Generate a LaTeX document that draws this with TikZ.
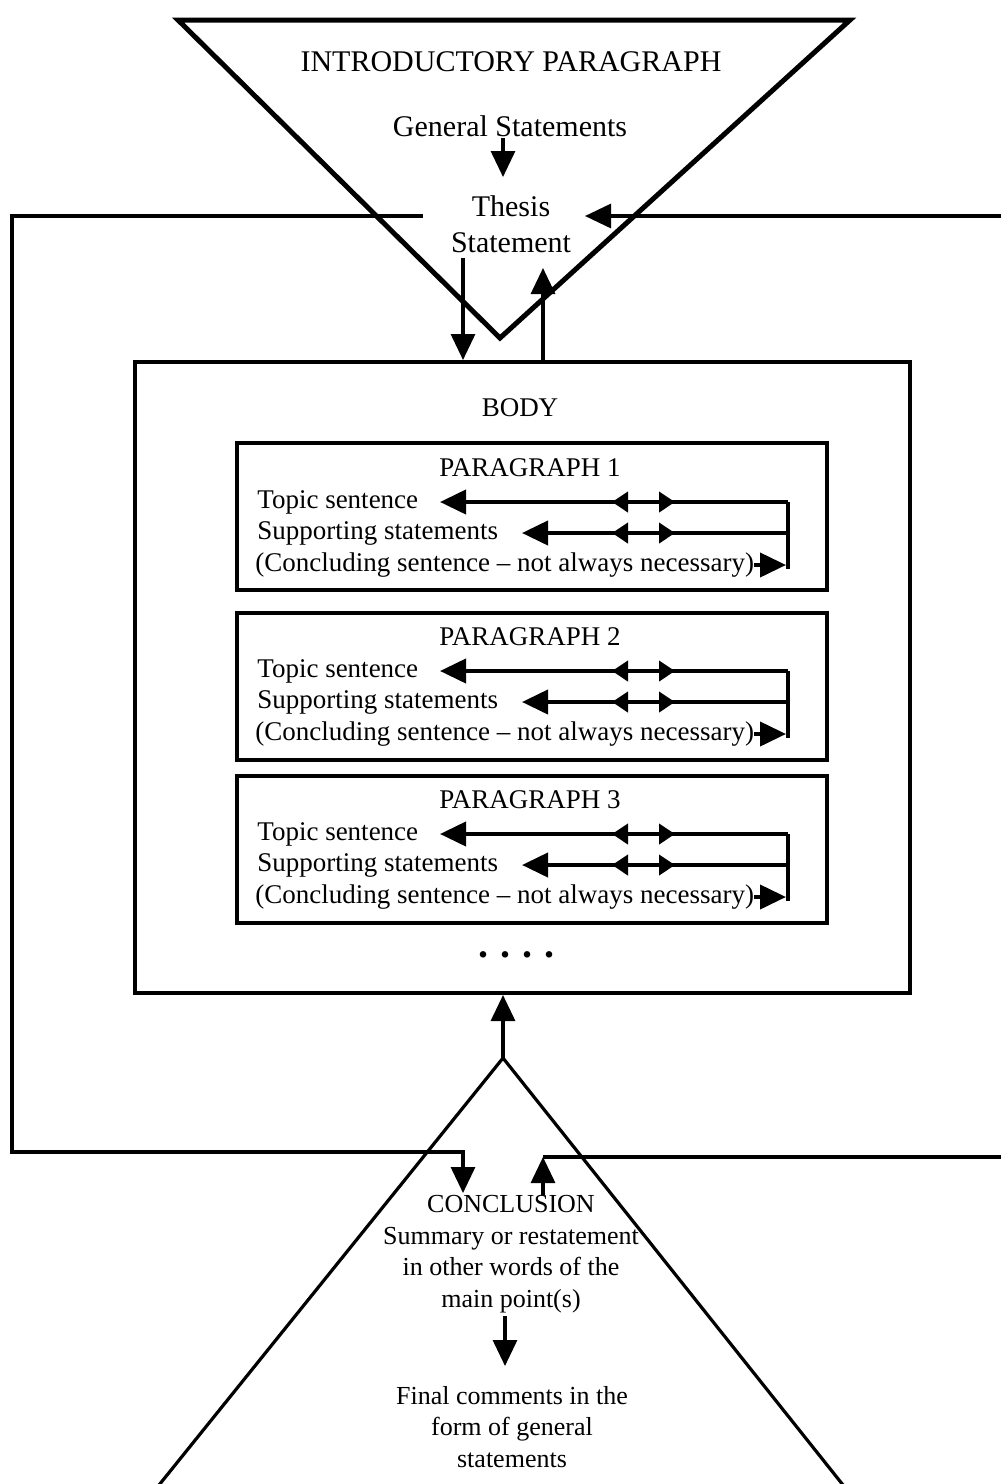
\documentclass[tikz,border=0pt]{standalone}
\usepackage{fontspec}
\setmainfont{Liberation Serif}
\usetikzlibrary{arrows.meta,decorations.markings}

\tikzset{
  big/.style={inner sep=0pt, font=\fontsize{15}{18}\selectfont},
  small/.style={inner sep=0pt, font=\fontsize{13.5}{16}\selectfont},
  concl/.style={inner sep=0pt, align=center, font=\fontsize{13}{15.75}\selectfont},
  link/.style={line width=1.6pt, line join=miter},
  parlink/.style={line width=2pt, line join=miter},
  arrowed/.style={-{Triangle[length=13pt,width=12pt]}},
  midtips/.style={postaction={decorate}, decoration={markings,
      mark=at position 56.5pt with {\arrowreversed{Triangle[length=8pt,width=10pt]}},
      mark=at position 88pt with {\arrow{Triangle[length=8pt,width=10pt]}}}},
  parbox/.style={draw, line width=2pt, minimum width=295pt, minimum height=73.5pt},
}

\begin{document}
\begin{tikzpicture}[x=0.5pt, y=-0.5pt]
    \useasboundingbox (0,0) rectangle (1001,1484);
    % Triangles
    \coordinate (introL) at (178,20);
    \coordinate (introR) at (850,20);
    \coordinate (introB) at (500,338);
    \coordinate (concL) at (155,1490);
    \coordinate (concA) at (503,1058);
    \coordinate (concR) at (847,1490);
    \draw[line width=2.5pt, line join=miter] (introL) -- (introR) -- (introB) -- cycle;
    \draw[line width=1.6pt, line join=miter] (concL) -- (concA) -- (concR);
    % Nodes
    \node[big] (intro) at (511,62) {INTRODUCTORY PARAGRAPH};
    \node[big] (general) at (510,126) {General Statements};
    \node[big, align=center] (thesis) at (511,224) {Thesis\\Statement};
    \node[draw, line width=2pt, minimum width=387.5pt, minimum height=315.5pt] (body) at (522.5,677.5) {};
    \node[small] (bodylabel) at (520,408) {BODY};
    % Paragraph 1
    \node[parbox] (p1) at (532,516.5) {};
    \node[small] (h1) at (530,468) {PARAGRAPH 1};
    \node[small, anchor=west] (ts1) at (257,502) {Topic sentence};
    \node[small, anchor=west] (ss1) at (257,533) {Supporting statements};
    \node[small, anchor=west] (cs1) at (255,565) {(Concluding sentence – not always necessary)};
    % Paragraph 2
    \node[parbox] (p2) at (532,686) {};
    \node[small] (h2) at (530,637) {PARAGRAPH 2};
    \node[small, anchor=west] (ts2) at (257,671) {Topic sentence};
    \node[small, anchor=west] (ss2) at (257,702) {Supporting statements};
    \node[small, anchor=west] (cs2) at (255,734) {(Concluding sentence – not always necessary)};
    % Paragraph 3
    \node[parbox] (p3) at (532,849) {};
    \node[small] (h3) at (530,800) {PARAGRAPH 3};
    \node[small, anchor=west] (ts3) at (257,834) {Topic sentence};
    \node[small, anchor=west] (ss3) at (257,865) {Supporting statements};
    \node[small, anchor=west] (cs3) at (255,897) {(Concluding sentence – not always necessary)};
    \node[inner sep=0pt, font=\fontsize{20}{20}\selectfont\bfseries] (dots) at (516,955) {.\hspace{6pt}.\hspace{6pt}.\hspace{6pt}.};
    \node[concl] (conclusion) at (511,1254) {CONCLUSION\\Summary or restatement\\in other words of the\\main point(s)};
    \node[concl] (final) at (512,1427) {Final comments in the\\form of general\\statements};
    % Coordinates
    \coordinate (g1) at (503,138);
    \coordinate (g2) at (503,177);
    \coordinate (downA) at (463,258);
    \coordinate (upA) at (543,268);
    \coordinate (loopA) at (423,216);
    \coordinate (loopB) at (12,216);
    \coordinate (loopC) at (12,1152);
    \coordinate (loopD) at (463,1152);
    \coordinate (loopE) at (463,1193);
    \coordinate (backA) at (1001,216);
    \coordinate (backB) at (585,216);
    \coordinate (retA) at (543,1195);
    \coordinate (retB) at (543,1157);
    \coordinate (retC) at (1001,1157);
    \coordinate (sumA) at (505,1316);
    \coordinate (sumB) at (505,1366);
    \coordinate (r1t) at (788,502);
    \coordinate (r1s) at (788,533);
    \coordinate (r1c) at (786,565);
    \coordinate (r1b) at (788,569);
    \coordinate (a1t) at (440,502);
    \coordinate (a1s) at (522,533);
    \coordinate (r2t) at (788,671);
    \coordinate (r2s) at (788,702);
    \coordinate (r2c) at (786,734);
    \coordinate (r2b) at (788,738);
    \coordinate (a2t) at (440,671);
    \coordinate (a2s) at (522,702);
    \coordinate (r3t) at (788,834);
    \coordinate (r3s) at (788,865);
    \coordinate (r3c) at (786,897);
    \coordinate (r3b) at (788,901);
    \coordinate (a3t) at (440,834);
    \coordinate (a3s) at (522,865);
    % Edges
    \draw[link, arrowed] (g1) -- (g2);
    \draw[link, arrowed] (downA) -- (downA |- body.north);
    \draw[link, arrowed] (upA |- body.north) -- (upA);
    \draw[link, arrowed] (loopA) -- (loopB) -- (loopC) -- (loopD) -- (loopE);
    \draw[link, arrowed] (backA) -- (backB);
    \draw[link] (retB) -- (retC);
    \draw[link, arrowed] (retA) -- (retB);
    \draw[link, arrowed] (concA) -- (concA |- body.south);
    \draw[link, arrowed] (sumA) -- (sumB);
    \draw[parlink] (r1b) -- (r1t);
    \draw[parlink, midtips, arrowed] (r1t) -- (a1t);
    \draw[parlink, midtips, arrowed] (r1s) -- (a1s);
    \draw[parlink, arrowed] (cs1.east) -- (r1c);
    \draw[parlink] (r2b) -- (r2t);
    \draw[parlink, midtips, arrowed] (r2t) -- (a2t);
    \draw[parlink, midtips, arrowed] (r2s) -- (a2s);
    \draw[parlink, arrowed] (cs2.east) -- (r2c);
    \draw[parlink] (r3b) -- (r3t);
    \draw[parlink, midtips, arrowed] (r3t) -- (a3t);
    \draw[parlink, midtips, arrowed] (r3s) -- (a3s);
    \draw[parlink, arrowed] (cs3.east) -- (r3c);
\end{tikzpicture}
\end{document}
